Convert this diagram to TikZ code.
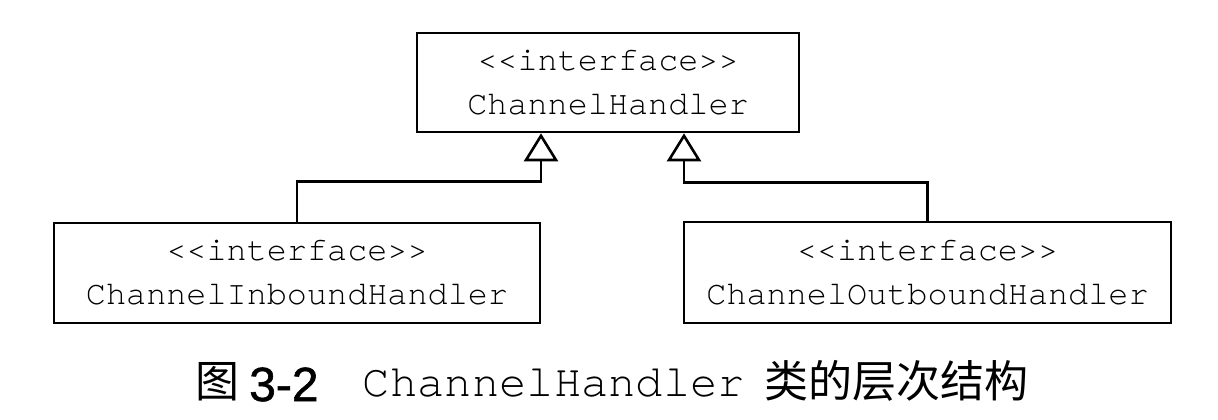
\documentclass[tikz,border=0pt]{standalone}
\usepackage{fontspec}
\setmonofont{TeX Gyre Cursor}
\newfontfamily\cjkfont{Noto Sans CJK SC}
\newfontfamily\arialfont[FakeBold=1.2]{Liberation Sans}
\usetikzlibrary{arrows.meta}
\begin{document}
\begin{tikzpicture}[x=1pt,y=-1pt,
  umlbox/.style={draw,line width=2.6pt,inner sep=0pt,align=center,
    font=\ttfamily\fontsize{33.5}{44}\selectfont},
  gen/.style={line width=2.6pt,-{Triangle[open,length=28pt,width=34pt,line width=2.6pt]}},
  captext/.style={inner sep=0pt,anchor=base}]
\useasboundingbox (0,0) rectangle (1218,420);
\fill[white] (0,0) rectangle (1218,420);
\node[umlbox,minimum width=382pt,minimum height=99pt] (top) at (608,82.5)
  {<{}<interface>{}>\\ChannelHandler};
\node[umlbox,minimum width=486pt,minimum height=100pt] (inb) at (297,273)
  {<{}<interface>{}>\\ChannelInboundHandler};
\node[umlbox,minimum width=487pt,minimum height=101pt] (outb) at (927.5,272.5)
  {<{}<interface>{}>\\ChannelOutboundHandler};
\draw[gen] (inb.north) -- ++(0,-40) -| ([xshift=-67pt]top.south);
\draw[gen] (outb.north) -- ++(0,-38.5) -| ([xshift=76pt]top.south);
\node[captext,anchor=base west,font=\cjkfont\fontsize{44}{44}\selectfont] (c1) at (195,397) {图};
\node[captext,anchor=base west,font=\arialfont\fontsize{48}{48}\selectfont] (c2) at (249,401) {3-2};
\node[captext,font=\ttfamily\fontsize{45.5}{46}\selectfont] (c3) at (554,396) {ChannelHandler};
\node[captext,font=\cjkfont\fontsize{44}{44}\selectfont] (c4) at (896,397) {类的层次结构};
\end{tikzpicture}
\end{document}
